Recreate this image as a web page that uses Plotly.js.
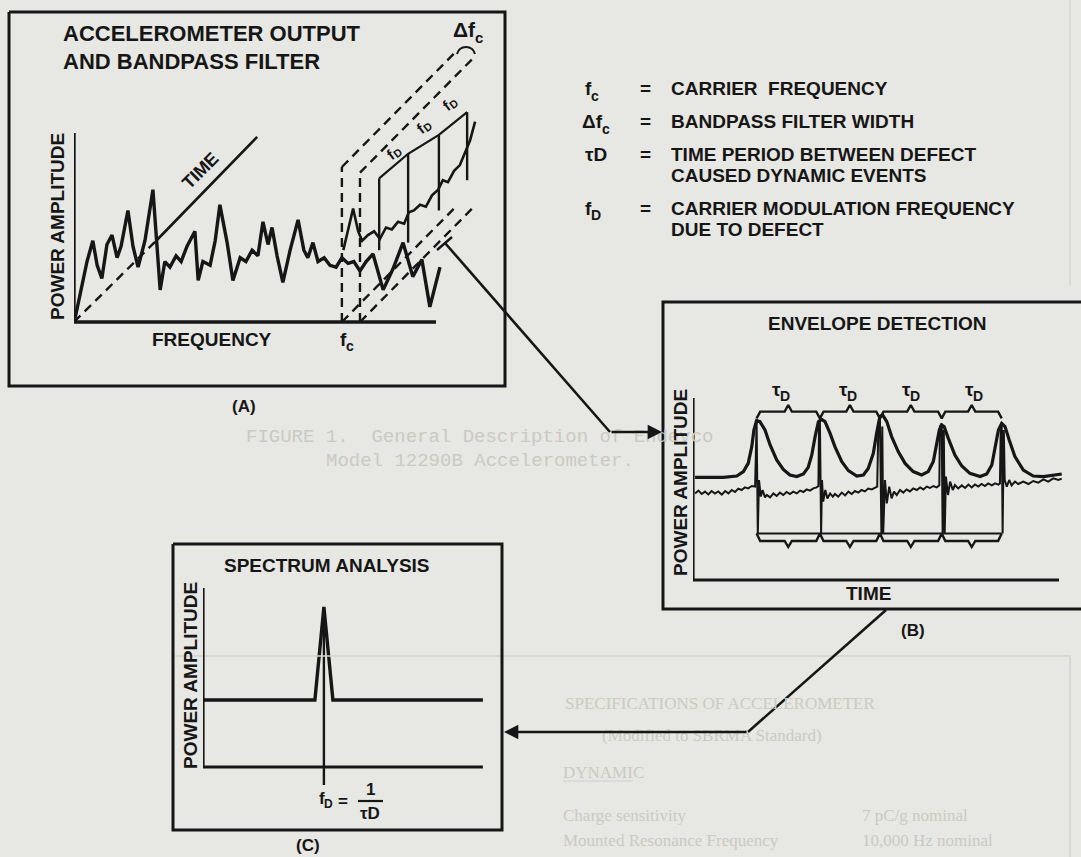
<!DOCTYPE html>
<html><head><meta charset="utf-8">
<script src="https://cdn.plot.ly/plotly-3.0.1.min.js"></script>
<style>html,body{margin:0;padding:0;background:#e7e7e3;}#chart{width:1081px;height:857px;}</style>
</head><body><div id="chart"></div>
<script>
// ================= DATA =================
// (A) accelerometer output spectrum: frequency / power amplitude (arbitrary units 0-100)
const specFreq = [0.3,3.6,5.2,6.4,7.7,9.1,10.5,11.9,13.0,14.9,16.3,17.7,19.6,21.8,23.8,25.1,26.5,28.2,29.6,31.2,33.4,34.3,35.6,37.6,39.0,40.3,42.3,43.9,45.9,47.5,49.2,50.8,52.2,53.6,54.7,56.1,57.7,59.7,61.9,63.5,64.6,66.0,67.4,69.1,70.7,72.4,74.0,75.7,77.3,79.0,80.7,82.6,85.4,88.1,90.9,93.6,96.1,98.3,101.1];
const specAmp  = [2,32,43,30,23,41,46,34,40,59,40,29,43,70,17,32,29,35,32,40,48,22,32,30,43,62,42,22,34,32,38,35,53,41,50,35,21,38,54,38,34,42,32,34,30,29,34,31,32,27,32,36,17,28,42,24,33,8,29];
// filtered carrier band seen along the time axis
const bandTraceFreq = [74.4,77.1,78.5,79.6,81.2,82.9,84.5,86.2,87.8,89.5,91.2,92.5,93.9,95.6,97.2,98.9,100.6,101.9,103.3,105.0,106.6,108.3,109.4,110.8];
const bandTraceAmp  = [38,60,48,43,46,48,44,50,49,53,52,58,59,62,61,67,70,75,74,80,83,91,96,106];
// defect events (f_D markers) on the band trace
const fdMarkFreq = [84.3, 92.3, 100.8, 108.6];
const fdMarkTop  = [76, 89, 99, 111];
const fdMarkBot  = [38, 42, 59, 75];
// carrier frequency and filter width
const carrierFreq = 74, filterWidth = 5;
const bandEdgeHeight = [82, 79];
const bandDepthFreq = 32, bandDepthAmp = 62;
// time axis (oblique)
const timeAxisFreq = [0, 22.9, 50.6];
const timeAxisAmp  = [0, 43.4, 97.9];

// (B) envelope detection: time / power amplitude
const envTime = [0.7,10.1,14.6,16.8,18.4,19.6,20.3,21.2,22.3,24.0,25.7,27.9,30.1,32.3,34.6,36.8,38.4,39.6,40.7,41.8,42.9,44.0,45.7,47.3,49.6,51.8,54.6,56.8,58.4,60.1,61.2,62.3,63.2,64.6,66.2,68.4,70.7,73.4,76.2,78.4,80.1,81.2,82.1,82.9,83.7,85.1,87.3,89.6,92.3,95.7,97.9,99.6,100.7,101.8,102.9,104.0,105.4,107.3,110.1,113.4,116.8,120.1,122.9];
const envAmp  = [51.3,51.3,52,54.2,58.3,66.7,75,79.7,79.2,75,67.5,60,55.3,52.5,51.7,53,56.3,62.5,71.7,79.2,80.3,79.2,73.3,66.7,59.2,54.7,52,52.5,55.8,63.3,73.3,81.7,82.5,79.2,71.7,64.2,58.3,54.2,52.5,54.2,59.2,67.5,75,77.5,76.7,70.8,62.5,57,53.3,51.7,53,57.5,66.7,75,78.3,76.7,70,61.7,55,52,51.7,52.5,53];
const rawTime = [0.7,1.8,2.9,4.0,5.1,6.2,7.3,8.4,9.6,10.7,11.8,12.9,14.0,15.1,16.2,17.3,18.4,19.6,20.7,21.0,21.2,21.6,22.0,22.6,23.2,24.0,24.6,25.7,26.8,27.9,29.0,30.1,31.2,32.3,33.4,34.6,35.7,36.8,37.9,39.0,40.1,41.2,41.8,42.0,42.3,42.7,43.0,43.4,44.1,44.8,45.7,46.6,47.3,48.4,49.6,50.7,51.8,52.9,54.0,55.1,56.2,57.3,58.4,59.6,60.7,61.4,61.8,62.3,62.8,63.1,63.4,64.0,64.6,65.4,66.2,67.0,67.9,69.0,70.1,71.2,72.3,73.4,74.6,75.7,76.8,77.9,79.0,80.1,81.2,82.1,82.3,82.9,83.2,83.6,83.9,84.3,85.0,85.7,86.6,87.3,88.4,89.6,90.7,91.8,92.9,94.0,95.1,96.2,97.3,98.4,99.6,100.7,101.8,102.3,102.6,102.9,103.2,103.6,103.9,104.6,105.4,106.2,107.3,108.4,110.1,111.8,113.4,115.1,116.8,118.4,120.1,121.8,122.9];
const rawAmp  = [43.3,44.7,43,44.2,42.8,44.5,43.2,44.3,42.7,44.5,43.3,45,44,45.7,45,46.3,45.8,47,46.7,77.5,78.7,23.3,50,41.7,45,41.3,42.5,41.3,43.3,42,43.7,42.5,44,43,44.2,43.3,44.7,44,45.3,44.7,45.8,46.3,47,76.7,80.3,23.3,50,39.2,45,40.8,43.3,41.7,43,41.7,43.7,42.3,44.2,43,44.5,43.7,45,44.3,45.7,45.3,46.3,46.7,78.3,81.7,23.3,76.7,23.3,50,38.3,46.7,40.8,44.2,42.5,45,43.7,45.3,44.3,45.8,45,46.3,45.3,46.7,46,47,46.3,47.3,76.7,78.3,23.3,75,23.3,51.7,42.5,49.2,45,47.5,45.8,47.3,46,47.7,46.3,47.8,46.7,48,47,48.3,47.3,48.3,47.7,48.3,77.5,78.7,23.3,75,50,46.7,50,47.3,49.2,48,49.2,48,49.5,48.7,50.3,49.2,50.8,50,50.7];
const pulseTime = [21.2, 42.3, 62.3, 82.9, 102.9];

// (C) spectrum analysis: frequency / power amplitude
const specCFreq = [0, 37.3, 40.3, 43.3, 93.3];
const specCAmp  = [33.5, 33.5, 80, 33.5, 33.5];
const defectFreqC = 40.3;

// text
const legendText = [['CARRIER  FREQUENCY'], ['BANDPASS FILTER WIDTH'], ['TIME PERIOD BETWEEN DEFECT','CAUSED DYNAMIC EVENTS'], ['CARRIER MODULATION FREQUENCY','DUE TO DEFECT']];
const ghostCaption = ['FIGURE 1.  General Description of Endevco', 'Model 12290B Accelerometer.'];
const ghostSpecs = ['SPECIFICATIONS OF ACCELEROMETER', '(Modified to SBRMA Standard)'];
const ghostDynamic = ['DYNAMIC', 'Charge sensitivity', 'Mounted Resonance Frequency'];
const ghostValues = ['7 pC/g nominal', '10,000 Hz nominal'];

// ================= LAYOUT HELPERS =================
const W = 1081, H = 857;
const PX = x => x / W, PY = y => 1 - y / H;
const INK = '#161616';
const FONT = 'Liberation Sans, Arial, Helvetica, sans-serif';
const GHOST = '#cacac5';

const traces = [];
function line(xs, ys, ax, w, dash) {
  traces.push({x: xs, y: ys, xaxis: ax[0], yaxis: ax[1], type: 'scatter', mode: 'lines',
    line: {color: INK, width: w, dash: dash || 'solid'}, hoverinfo: 'skip', showlegend: false});
}
const A = ['x', 'y'], B = ['x2', 'y2'], C = ['x3', 'y3'];

// ---- panel A ----
line(specFreq, specAmp, A, 3.4);
line(bandTraceFreq, bandTraceAmp, A, 2.6);
(function () {
  const xs = [], ys = [];
  fdMarkFreq.forEach((f, i) => { xs.push(f, f, null); ys.push(fdMarkBot[i], fdMarkTop[i], null); });
  line(xs, ys, A, 2.4);
  line(fdMarkFreq, fdMarkTop, A, 2.2);
})();
line(timeAxisFreq.slice(0, 2), timeAxisAmp.slice(0, 2), A, 2.4, '9px,6px');
line(timeAxisFreq.slice(1), timeAxisAmp.slice(1), A, 2.6);
(function () {
  const xs = [], ys = [];
  [carrierFreq, carrierFreq + filterWidth].forEach((f, i) => {
    const h = bandEdgeHeight[i];
    xs.push(f, f, null, f, f + bandDepthFreq, null, f, f + bandDepthFreq, null);
    ys.push(0, h, null, h, h + bandDepthAmp, null, 0, bandDepthAmp, null);
  });
  line(xs, ys, A, 2.4, '9px,6px');
})();

// ---- panel B ----
line(envTime, envAmp, B, 3.2);
line(rawTime, rawAmp, B, 2.0);
(function () {
  const top = {lvl: 84.2, cusp: 87.5, end: 80.8}, bot = {lvl: 19.5, cusp: 16.5, end: 23.3};
  [top, bot].forEach(b => {
    const xs = [], ys = [];
    for (let i = 0; i < pulseTime.length - 1; i++) {
      const p0 = pulseTime[i], p1 = pulseTime[i + 1], m = (p0 + p1) / 2;
      xs.push(p0, p0 + 1.2, m - 1.2, m, m + 1.2, p1 - 1.2, p1);
      ys.push(b.end, b.lvl, b.lvl, b.cusp, b.lvl, b.lvl, b.end);
    }
    line(xs, ys, B, 2.4);
  });
  line([pulseTime[0], pulseTime[pulseTime.length - 1]], [23.3, 23.3], B, 2.0);
})();

// ---- panel C ----
line(specCFreq, specCAmp, C, 3.4);
line([defectFreqC, defectFreqC], [-9, specCAmp[2]], C, 2.4);

// ================= SHAPES =================
const shapes = [];
function pathPx(pts, w, color) {
  const d = pts.map((p, i) => (i ? 'L' : 'M') + PX(p[0]).toFixed(5) + ',' + PY(p[1]).toFixed(5)).join(' ');
  shapes.push({type: 'path', xref: 'paper', yref: 'paper', path: d, line: {color: color || INK, width: w}});
}
// ghost page features (behind)
pathPx([[175,656],[1070,656],[1070,857]], 1.5, '#d3d3ce');
pathPx([[1070,0],[1070,285]], 1.5, '#d6d6d1');
pathPx([[563,781],[633,781]], 1.2, '#d0d0cb');
// panel boxes
pathPx([[9,12],[505,12],[505,386],[9,386],[9,12]], 3);
pathPx([[1095,302],[663,302],[663,609],[1095,609]], 3);
pathPx([[173,544],[502,544],[502,830],[173,830],[173,544]], 3);
// connectors
pathPx([[445,243],[610,432]], 2.6);
pathPx([[437,250],[452,237]], 2.4);
pathPx([[886,610],[748,732]], 2.6);
// axes L
function axisL(ax, xEnd, yEnd, w) {
  shapes.push({type: 'line', xref: ax[0], yref: ax[1], x0: 0, y0: 0, x1: xEnd, y1: 0, line: {color: INK, width: w}});
  shapes.push({type: 'line', xref: ax[0], yref: ax[1], x0: 0, y0: 0, x1: 0, y1: yEnd, line: {color: INK, width: w}});
}
axisL(A, 100, 100, 3.4);
axisL(B, 122, 91, 3.2);
axisL(C, 93.3, 89.5, 3.2);
// fraction bar in C
pathPx([[358,801],[383,801]], 2.2);
// small brace under delta f_c
shapes.push({type: 'path', xref: 'paper', yref: 'paper',
  path: `M${PX(457)},${PY(54)} Q${PX(459)},${PY(47)} ${PX(466)},${PY(47)} Q${PX(473)},${PY(47)} ${PX(475)},${PY(54)}`,
  line: {color: INK, width: 2}});

// ================= ANNOTATIONS =================
const ann = [];
function txt(t, x, y, size, opt) {
  opt = opt || {};
  ann.push({text: t, x: PX(x), y: PY(y), xref: 'paper', yref: 'paper', borderpad: 0, borderwidth: 0,
    showarrow: false, xanchor: opt.xa || 'center', yanchor: 'middle', textangle: opt.rot || 0,
    font: {family: opt.family || FONT, size: size, color: opt.color || INK, weight: opt.weight || 'bold'}});
}
// base letter (right-anchored at x) + subscript (left-anchored just after, lowered)
function sym(base, sub, x, y, size) {
  txt(base, x, y, size, {xa: 'right'});
  txt(sub, x - 1, y + size * 0.38, Math.round(size * 0.72), {xa: 'left'});
}
function arrow(xh, yh, xt, yt) {
  ann.push({x: PX(xh), y: PY(yh), xref: 'paper', yref: 'paper', ax: xt - xh, ay: yt - yh, text: '',
    showarrow: true, arrowhead: 2, arrowsize: 1.1, arrowwidth: 2.6, arrowcolor: INK, standoff: 0});
}
// ghost (bleed-through) page text
const gMono = {family: 'Liberation Mono, monospace', color: GHOST, weight: 'normal'};
txt(ghostCaption[0], 480, 437, 19, gMono);
txt(ghostCaption[1], 480, 461, 19, gMono);
const gSerif = {family: 'Liberation Serif, serif', color: GHOST, weight: 'normal'};
txt(ghostSpecs[0], 720, 703, 17, gSerif);
txt(ghostSpecs[1], 712, 735, 17, gSerif);
ghostDynamic.forEach((t, i) => txt(t, 563, [772, 815, 840][i], 17, Object.assign({xa: 'left'}, gSerif)));
ghostValues.forEach((t, i) => txt(t, 862, [815, 840][i], 17, Object.assign({xa: 'left'}, gSerif)));
// panel A
txt('ACCELEROMETER OUTPUT', 63, 33, 22, {xa: 'left'});
txt('AND BANDPASS FILTER', 63, 62, 22, {xa: 'left'});
txt('POWER AMPLITUDE', 57, 227, 19, {rot: -90});
txt('FREQUENCY', 212, 339, 19);
sym('f', 'c', 347, 339, 19);
txt('TIME', 200, 171, 18, {rot: -45});
[[393,153],[423,127],[449,104]].forEach(p => {
  txt('f', p[0] - 2.4, p[1] + 1.8, 15, {rot: -38});
  txt('D', p[0] + 4.6, p[1] + 0.2, 11, {rot: -38});
});
sym('Δf', 'c', 476, 30, 21);
txt('(A)', 244, 406, 17);
// legend
const legY = [[89], [122], [154, 175], [208, 229]];
sym('f', 'c', 592, legY[0][0], 19);
sym('Δf', 'c', 603, legY[1][0], 19);
txt('τD', 585, legY[2][0], 19, {xa: 'left'});
sym('f', 'D', 592, legY[3][0], 19);
legendText.forEach((lines, i) => {
  txt('=', 645, legY[i][0], 19);
  lines.forEach((t, j) => txt(t, 671, legY[i][j], 19, {xa: 'left'}));
});
// panel B
txt('ENVELOPE DETECTION', 877, 323, 19);
txt('POWER AMPLITUDE', 680, 483, 19, {rot: -90});
[781, 848, 911, 974].forEach(x => sym('τ', 'D', x, 389, 19));
txt('TIME', 868, 593, 19);
txt('(B)', 913, 630, 17);
// panel C
txt('SPECTRUM ANALYSIS', 327, 565, 19);
txt('POWER AMPLITUDE', 190, 676, 19, {rot: -90});
sym('f', 'D', 325, 798, 17);
txt('=', 343, 801, 17);
txt('1', 370, 789, 17);
txt('τD', 370, 813, 17);
txt('(C)', 308, 845, 17);
// connectors arrowheads
arrow(662, 432, 610, 432);
arrow(504, 732, 748, 732);

// ================= AXES =================
function ax(domain, range) {
  return {domain: domain, range: range, visible: false, fixedrange: true, showgrid: false, zeroline: false};
}
const layout = {
  width: W, height: H, margin: {l: 0, r: 0, t: 0, b: 0},
  paper_bgcolor: '#e7e7e3', plot_bgcolor: 'rgba(0,0,0,0)', showlegend: false,
  xaxis:  Object.assign(ax([PX(74), PX(505)], [0, 119.06]), {anchor: 'y'}),
  yaxis:  Object.assign(ax([PY(330), PY(12)], [-4.23, 164.0]), {anchor: 'x'}),
  xaxis2: Object.assign(ax([PX(693), 1], [0, 129.33]), {anchor: 'y2'}),
  yaxis2: Object.assign(ax([PY(600), PY(385)], [-10, 97.5]), {anchor: 'x2'}),
  xaxis3: Object.assign(ax([PX(203), PX(500)], [0, 99]), {anchor: 'y3'}),
  yaxis3: Object.assign(ax([PY(795), PY(585)], [-14, 91]), {anchor: 'x3'}),
  shapes: shapes, annotations: ann
};
Plotly.newPlot('chart', traces, layout, {staticPlot: true, displayModeBar: false});
</script></body></html>
